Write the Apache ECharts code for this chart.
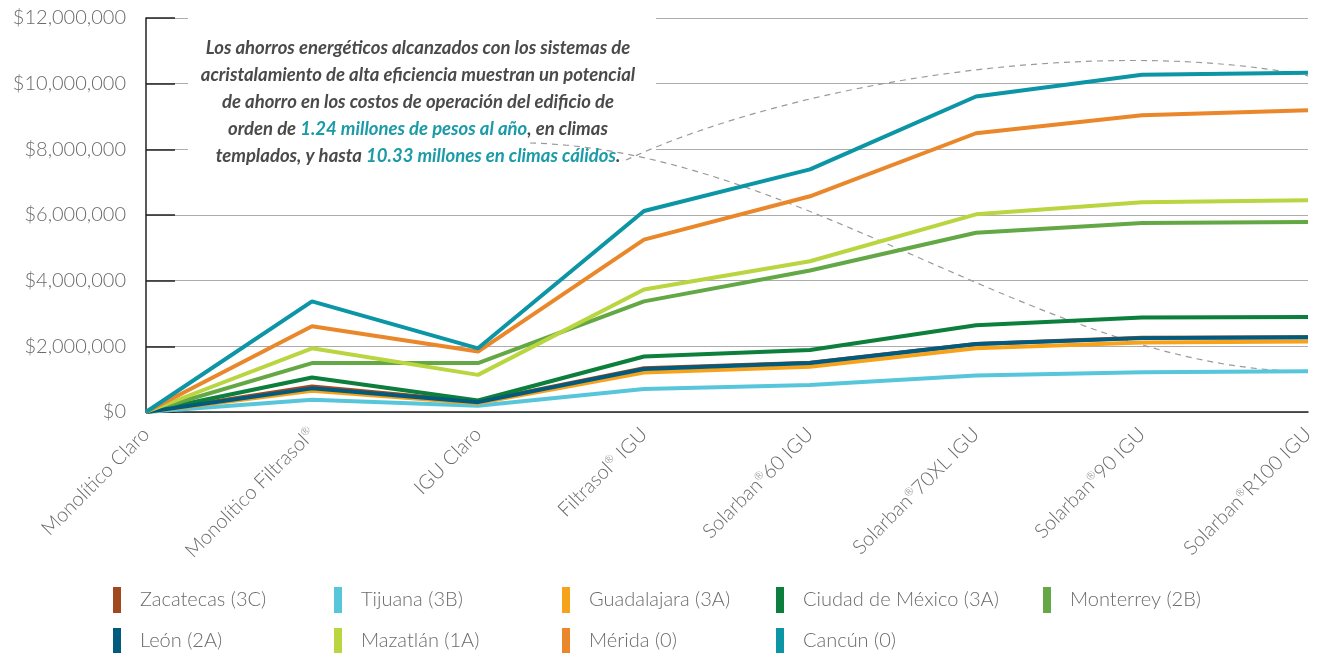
<!DOCTYPE html>
<html>
<head>
<meta charset="utf-8">
<script src="https://cdn.jsdelivr.net/npm/echarts@6/dist/echarts.min.js"></script>
<style>
  html, body { margin: 0; padding: 0; background: #fff; }
  #chart { width: 1337px; height: 653px; }
</style>
</head>
<body>
<div id="chart"></div>
<script>
// tipos de vidrio (eje x)
const categorias = ['Monolítico Claro', 'Monolítico Filtrasol®', 'IGU Claro', 'Filtrasol® IGU',
  'Solarban®60 IGU', 'Solarban®70XL IGU', 'Solarban®90 IGU', 'Solarban®R100 IGU']
const ticksY = [0, 2000000, 4000000, 6000000, 8000000, 10000000, 12000000]

// ahorro anual en millones de pesos, por ciudad
const zacatecas = [0, 0.78, 0.31, 1.33, 1.50, 2.07, 2.26, 2.28]
const tijuana = [0, 0.37, 0.19, 0.70, 0.82, 1.11, 1.21, 1.24]
const guadalajara = [0, 0.65, 0.27, 1.20, 1.38, 1.94, 2.12, 2.15]
const cdmx = [0, 1.05, 0.35, 1.69, 1.89, 2.64, 2.88, 2.89]
const monterrey = [0, 1.49, 1.49, 3.37, 4.31, 5.46, 5.76, 5.79]
const leon = [0, 0.72, 0.30, 1.31, 1.49, 2.07, 2.25, 2.28]
const mazatlan = [0, 1.94, 1.13, 3.73, 4.59, 6.02, 6.39, 6.45]
const merida = [0, 2.61, 1.84, 5.25, 6.57, 8.49, 9.04, 9.19]
const cancun = [0, 3.37, 1.94, 6.12, 7.39, 9.61, 10.27, 10.33]

const ciudades = [
  { name: 'Zacatecas (3C)', data: zacatecas, color: '#a1491d' },
  { name: 'Tijuana (3B)', data: tijuana, color: '#58c6da' },
  { name: 'Guadalajara (3A)', data: guadalajara, color: '#f7a21b' },
  { name: 'Ciudad de México (3A)', data: cdmx, color: '#0b7f3b' },
  { name: 'Monterrey (2B)', data: monterrey, color: '#63a845' },
  { name: 'León (2A)', data: leon, color: '#015b7e' },
  { name: 'Mazatlán (1A)', data: mazatlan, color: '#b9d540' },
  { name: 'Mérida (0)', data: merida, color: '#e9872a' },
  { name: 'Cancún (0)', data: cancun, color: '#0c95a4' }
]

const fuente = 'Lato, "Noto Sans", sans-serif'
const gris = '#6b6b6b'

// posicion de cada entrada de la leyenda (dos renglones)
const posLeyenda = {
  'Zacatecas (3C)': [113, 587], 'Tijuana (3B)': [334, 587], 'Guadalajara (3A)': [562, 587],
  'Ciudad de México (3A)': [776, 587], 'Monterrey (2B)': [1043, 587],
  'León (2A)': [113, 628], 'Mazatlán (1A)': [334, 628], 'Mérida (0)': [562, 628], 'Cancún (0)': [776, 628]
}

const chart = echarts.init(document.getElementById('chart'))

const option = {
  animation: false,
  textStyle: { fontFamily: fuente },
  grid: { left: 146, right: 29, top: 18, bottom: 241 },
  legend: ciudades.map(c => ({
    data: [c.name],
    left: posLeyenda[c.name][0],
    top: posLeyenda[c.name][1],
    padding: 0,
    icon: 'rect',
    itemWidth: 8,
    itemHeight: 26,
    selectedMode: false,
    textStyle: { fontFamily: fuente, fontSize: 20, fontWeight: 300, color: gris, padding: [0, 0, 0, 14] }
  })),
  xAxis: {
    type: 'category',
    data: categorias,
    boundaryGap: false,
    axisLine: { lineStyle: { color: '#222', width: 1.5 } },
    axisTick: { show: false },
    axisLabel: {
      rotate: 45,
      margin: 19,
      fontFamily: fuente,
      fontSize: 20,
      fontWeight: 300,
      color: gris,
      formatter: v => v.split('®').join('{s|®}'),
      rich: {
        s: { fontFamily: fuente, fontSize: 11, fontWeight: 300, color: gris, verticalAlign: 'top' }
      }
    }
  },
  yAxis: {
    type: 'value',
    min: 0,
    max: 12000000,
    interval: 2000000,
    axisLine: { show: true, lineStyle: { color: '#222', width: 1.5 } },
    axisTick: { show: true, inside: true, length: 29, lineStyle: { color: '#222', width: 1.5 } },
    splitLine: { lineStyle: { color: '#acacac', width: 1.2 } },
    axisLabel: {
      margin: 20,
      fontFamily: fuente,
      fontSize: 20,
      fontWeight: 300,
      color: gris,
      formatter: v => ticksY.includes(v) ? '$' + v.toLocaleString('en-US') : ''
    }
  },
  series: ciudades.map(c => ({
    name: c.name,
    type: 'line',
    data: c.data.map(v => v * 1000000),
    symbol: 'none',
    color: c.color,
    lineStyle: { width: 4, color: c.color }
  }))
}

chart.setOption(option)

// nota y líneas punteadas que la unen con Cancún y Tijuana
const pCancun = chart.convertToPixel({ seriesIndex: 8 }, [7, cancun[7] * 1000000])
const pTijuana = chart.convertToPixel({ seriesIndex: 1 }, [7, tijuana[7] * 1000000])
const dash = { stroke: '#9a9a9a', lineWidth: 1.2, lineDash: [6, 5], fill: null }

chart.setOption({
  graphic: [
    {
      type: 'rect', z: 1,
      shape: { x: 188, y: 8, width: 468, height: 160 },
      style: { fill: '#fff' }
    },
    {
      type: 'bezierCurve', z: 3, silent: true,
      shape: { x1: 626, y1: 160, cpx1: 800, cpy1: 80, cpx2: 1100, cpy2: 35, x2: pCancun[0], y2: pCancun[1] + 3 },
      style: dash
    },
    {
      type: 'bezierCurve', z: 3, silent: true,
      shape: { x1: 530, y1: 143, cpx1: 800, cpy1: 150, cpx2: 1050, cpy2: pTijuana[1], x2: pTijuana[0], y2: pTijuana[1] },
      style: dash
    },
    {
      type: 'text', z: 4,
      x: 418, y: 35,
      style: {
        text: 'Los ahorros energéticos alcanzados con los sistemas de\n' +
          'acristalamiento de alta eficiencia muestran un potencial\n' +
          'de ahorro en los costos de operación del edificio de\n' +
          'orden de {h|1.24 millones de pesos al año}, en climas\n' +
          'templados, y hasta {h|10.33 millones en climas cálidos}.',
        align: 'center',
        fontFamily: fuente,
        fontSize: 18.5,
        fontStyle: 'italic',
        fontWeight: 'bold',
        lineHeight: 27,
        fill: '#4a4a4a',
        rich: {
          h: { fill: '#1b9ba7', fontFamily: fuente, fontSize: 18.5, fontStyle: 'italic', fontWeight: 'bold', lineHeight: 27 }
        }
      }
    }
  ]
})
</script>
</body>
</html>
